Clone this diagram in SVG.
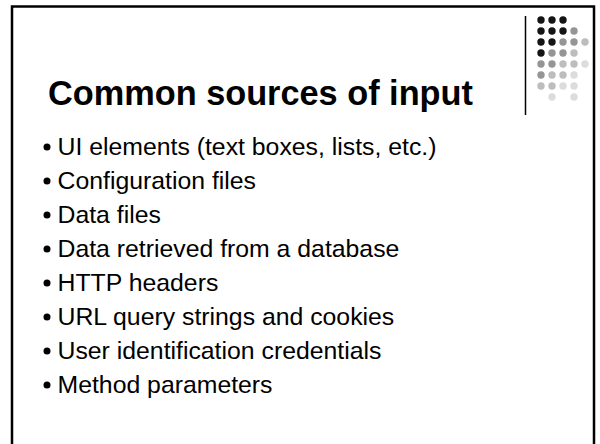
<svg xmlns="http://www.w3.org/2000/svg" width="600" height="444" viewBox="0 0 600 444">
  <style>
    .title { font-family: "Liberation Sans", Arial, sans-serif; font-weight: bold; font-size: 34.3px; fill: #000; }
    .item { font-family: "Liberation Sans", Arial, sans-serif; font-size: 24.8px; fill: #000; }
    .d0 { fill: #141414; }
    .d1 { fill: #959595; }
    .d2 { fill: #bdbdbd; }
    .d3 { fill: #dcdcdc; }
  </style>
  <rect width="600" height="444" fill="#fff"/>
  <!-- slide frame, open at the bottom -->
  <path d="M12 450 V6.5 H594 V450" fill="none" stroke="#000" stroke-width="2.5"/>
  <!-- divider beside the dot pattern -->
  <line x1="525.5" y1="16" x2="525.5" y2="115" stroke="#000" stroke-width="1.5"/>
  <!-- dot pattern -->
  <g id="dots">
    <circle class="d0" cx="541" cy="20" r="3.7"/><circle class="d0" cx="552" cy="20" r="3.7"/><circle class="d0" cx="563" cy="20" r="3.7"/>
    <circle class="d0" cx="541" cy="31" r="3.7"/><circle class="d0" cx="552" cy="31" r="3.7"/><circle class="d0" cx="563" cy="31" r="3.7"/><circle class="d1" cx="574" cy="31" r="3.7"/>
    <circle class="d0" cx="541" cy="42" r="3.7"/><circle class="d0" cx="552" cy="42" r="3.7"/><circle class="d1" cx="563" cy="42" r="3.7"/><circle class="d1" cx="574" cy="42" r="3.7"/><circle class="d2" cx="585" cy="42" r="3.7"/>
    <circle class="d0" cx="541" cy="53" r="3.7"/><circle class="d1" cx="552" cy="53" r="3.7"/><circle class="d1" cx="563" cy="53" r="3.7"/><circle class="d2" cx="574" cy="53" r="3.7"/>
    <circle class="d1" cx="541" cy="64" r="3.7"/><circle class="d1" cx="552" cy="64" r="3.7"/><circle class="d2" cx="563" cy="64" r="3.7"/><circle class="d2" cx="574" cy="64" r="3.7"/><circle class="d3" cx="585" cy="64" r="3.7"/>
    <circle class="d1" cx="541" cy="75" r="3.7"/><circle class="d2" cx="552" cy="75" r="3.7"/><circle class="d2" cx="563" cy="75" r="3.7"/><circle class="d3" cx="574" cy="75" r="3.7"/>
    <circle class="d2" cx="541" cy="86" r="3.7"/><circle class="d2" cx="552" cy="86" r="3.7"/><circle class="d3" cx="563" cy="86" r="3.7"/><circle class="d3" cx="574" cy="86" r="3.7"/>
    <circle class="d3" cx="552" cy="97" r="3.7"/><circle class="d3" cx="574" cy="97" r="3.7"/>
  </g>
  <g id="title">
    <text class="title" x="48" y="105">Common sources of input</text>
  </g>
  <g id="bullets">
    <g id="b1"><circle cx="47" cy="147" r="3.5"/><text class="item" x="57.5" y="155">UI elements (text boxes, lists, etc.)</text></g>
    <g id="b2"><circle cx="47" cy="181" r="3.5"/><text class="item" x="57.5" y="189">Configuration files</text></g>
    <g id="b3"><circle cx="47" cy="215" r="3.5"/><text class="item" x="57.5" y="223">Data files</text></g>
    <g id="b4"><circle cx="47" cy="249" r="3.5"/><text class="item" x="57.5" y="257">Data retrieved from a database</text></g>
    <g id="b5"><circle cx="47" cy="283" r="3.5"/><text class="item" x="57.5" y="291">HTTP headers</text></g>
    <g id="b6"><circle cx="47" cy="317" r="3.5"/><text class="item" x="57.5" y="325">URL query strings and cookies</text></g>
    <g id="b7"><circle cx="47" cy="351" r="3.5"/><text class="item" x="57.5" y="359">User identification credentials</text></g>
    <g id="b8"><circle cx="47" cy="385" r="3.5"/><text class="item" x="57.5" y="393">Method parameters</text></g>
  </g>
</svg>
